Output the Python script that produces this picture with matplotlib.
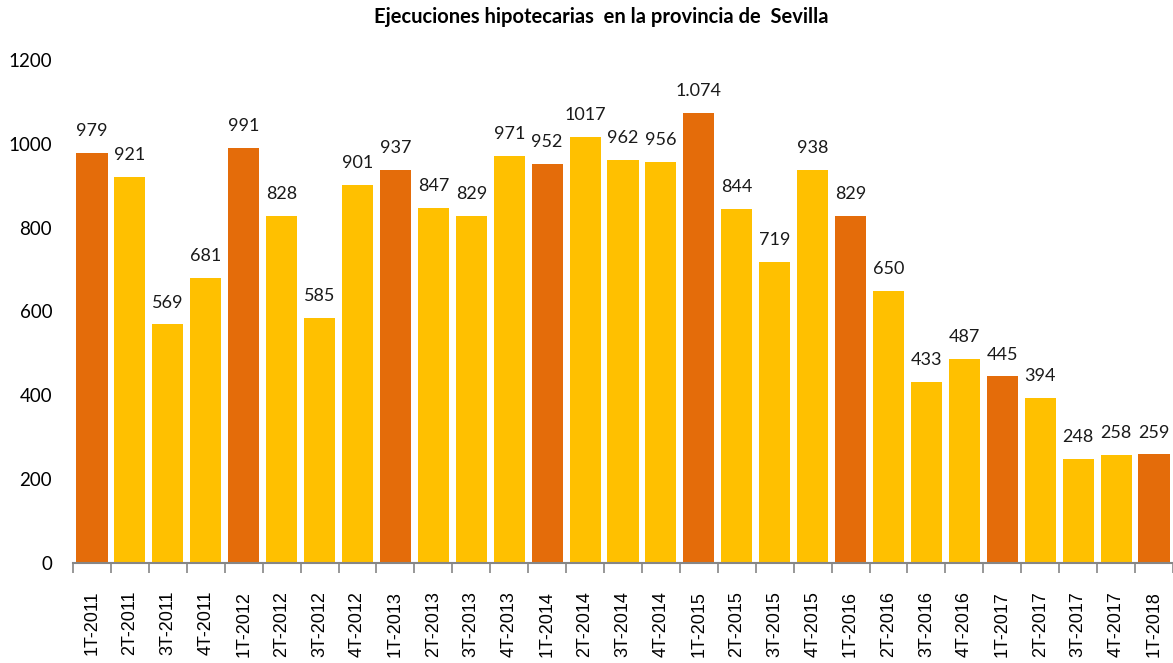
"""
Ejecuciones hipotecarias en la provincia de Sevilla - barras por trimestre.
Salida: out.png
"""

import matplotlib.pyplot as plt
import numpy as np

TRIMESTRES = [
    "1T-2011", "2T-2011", "3T-2011", "4T-2011",
    "1T-2012", "2T-2012", "3T-2012", "4T-2012",
    "1T-2013", "2T-2013", "3T-2013", "4T-2013",
    "1T-2014", "2T-2014", "3T-2014", "4T-2014",
    "1T-2015", "2T-2015", "3T-2015", "4T-2015",
    "1T-2016", "2T-2016", "3T-2016", "4T-2016",
    "1T-2017", "2T-2017", "3T-2017", "4T-2017",
    "1T-2018",
]
EJECUCIONES = [
    979, 921, 569, 681,
    991, 828, 585, 901,
    937, 847, 829, 971,
    952, 1017, 962, 956,
    1074, 844, 719, 938,
    829, 650, 433, 487,
    445, 394, 248, 258,
    259,
]
ETIQUETAS = [
    "979", "921", "569", "681",
    "991", "828", "585", "901",
    "937", "847", "829", "971",
    "952", "1017", "962", "956",
    "1.074", "844", "719", "938",
    "829", "650", "433", "487",
    "445", "394", "248", "258",
    "259",
]
Y_TICKS = [0, 200, 400, 600, 800, 1000, 1200]

NARANJA = "#E46C0A"
AMARILLO = "#FFC000"
GRIS = "#868686"


def main() -> None:
    W, H = 1173, 663
    fig = plt.figure(figsize=(W / 100, H / 100), dpi=100)
    ax = fig.add_axes([73 / W, (H - 563) / H, 1 - 73 / W, (563 - 60) / H])

    x = np.arange(len(TRIMESTRES))
    colores = [NARANJA if t.startswith("1T") else AMARILLO for t in TRIMESTRES]
    bars = ax.bar(x, EJECUCIONES, width=0.82, color=colores, zorder=2)

    # Etiquetas de valor
    for b, txt in zip(bars, ETIQUETAS):
        ax.annotate(
            txt,
            (b.get_x() + b.get_width() / 2, b.get_height()),
            xytext=(0, 10),
            textcoords="offset points",
            ha="center",
            va="bottom",
            fontsize=13,
            family="Lato",
            color="#1a1a1a",
        )

    ax.set_xlim(-0.5, len(TRIMESTRES) - 0.5)
    ax.set_ylim(0, 1200)
    ax.set_yticks(Y_TICKS)
    ax.set_yticklabels([str(v) for v in Y_TICKS], family="Lato", fontsize=13.5)
    ax.tick_params(axis="y", length=0, pad=15)

    ax.set_xticks(x)
    ax.set_xticklabels(TRIMESTRES, rotation=90, family="Liberation Sans", fontsize=13)
    ax.set_xticks(np.arange(len(TRIMESTRES) + 1) - 0.5, minor=True)
    ax.tick_params(axis="x", which="major", length=0, pad=20)
    ax.tick_params(axis="x", which="minor", length=7, width=1.2, color=GRIS)

    for lado in ["top", "right", "left"]:
        ax.spines[lado].set_visible(False)
    ax.spines["bottom"].set_color(GRIS)
    ax.spines["bottom"].set_linewidth(1.5)
    ax.spines["bottom"].set_zorder(3)

    fig.text(
        601 / W,
        1 - 17 / H,
        "Ejecuciones hipotecarias  en la provincia de  Sevilla",
        ha="center",
        va="center",
        fontsize=14.5,
        fontweight="bold",
        family="Lato",
    )

    fig.savefig("out.png", dpi=100)
    plt.close(fig)


if __name__ == "__main__":
    main()
